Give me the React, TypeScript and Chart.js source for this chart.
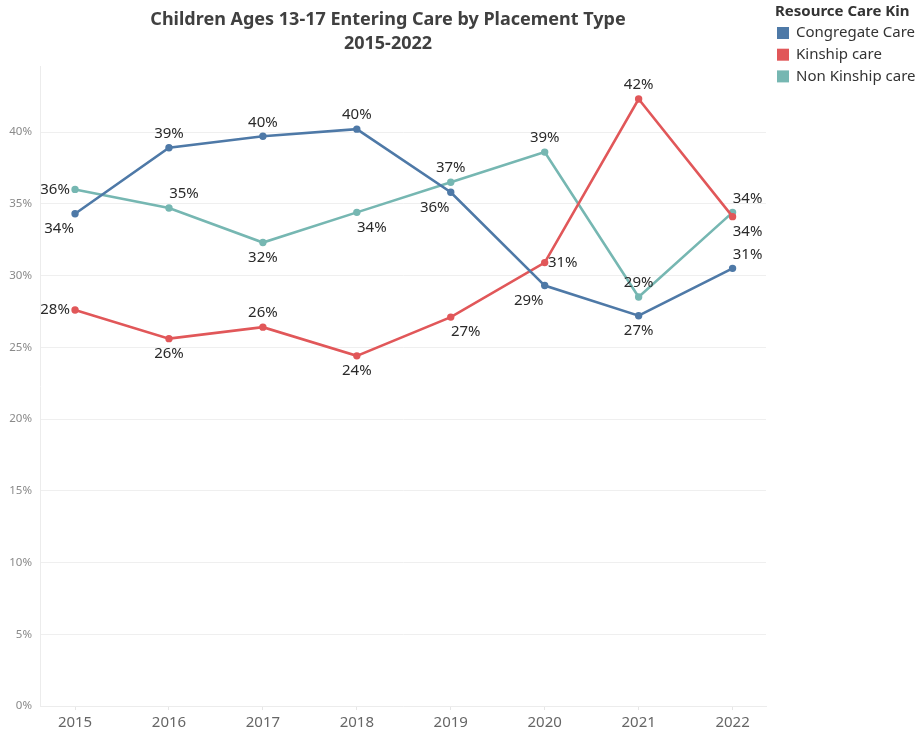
import React, { useEffect, useRef } from "react";
import { Chart, registerables } from "chart.js";

Chart.register(...registerables);

const years = [2015, 2016, 2017, 2018, 2019, 2020, 2021, 2022];
const seriesNames = ["Congregate Care", "Kinship care", "Non Kinship care"];
const congregate = [34.3, 38.9, 39.7, 40.2, 35.8, 29.3, 27.2, 30.5];
const kinship = [27.6, 25.6, 26.4, 24.4, 27.1, 30.9, 42.3, 34.1];
const nonKinship = [36.0, 34.7, 32.3, 34.4, 36.5, 38.6, 28.5, 34.4];
const yTicks = [0, 5, 10, 15, 20, 25, 30, 35, 40];
const colors = ["#4e79a7", "#e15759", "#76b7b2"];
// label placement per point: a=above, b=below, l=left, r=right, combos
const congregatePlace = ["bl", "a", "a", "a", "bl", "bl", "b", "ar"];
const kinshipPlace = ["l", "b", "a", "b", "br", "r", "a", "br"];
const nonKinshipPlace = ["l", "ar", "b", "br", "a", "a", "a", "ar"];

const titleLines = ["Children Ages 13-17 Entering Care by Placement Type", "2015-2022"];
const legendTitle = "Resource Care Kin";

export default function App() {
  const ref = useRef<HTMLCanvasElement | null>(null);
  useEffect(() => {
    const values = [congregate, kinship, nonKinship];
    const places = [congregatePlace, kinshipPlace, nonKinshipPlace];
    const labelPlugin = {
      id: "pointLabels",
      afterDatasetsDraw(chart: any) {
        const ctx = chart.ctx;
        ctx.save();
        ctx.font = "15px 'Noto Sans'";
        ctx.fillStyle = "#2a2a2a";
        ctx.textAlign = "center";
        ctx.textBaseline = "middle";
        chart.data.datasets.forEach((ds: any, di: number) => {
          const meta = chart.getDatasetMeta(di);
          meta.data.forEach((pt: any, i: number) => {
            const p = places[di][i];
            let dx = 0;
            let dy = 0;
            if (p.includes("a")) dy = -14;
            if (p.includes("b")) dy = 15;
            if (p === "l") dx = -20;
            else if (p === "r") dx = 18;
            else if (p.includes("l")) dx = -16;
            else if (p.includes("r")) dx = 15;
            const v = values[di][i];
            ctx.fillText(Math.round(v) + "%", pt.x + dx, pt.y + dy);
          });
        });
        ctx.restore();
      },
    };
    const decorPlugin = {
      id: "decor",
      afterDraw(chart: any) {
        const ctx = chart.ctx;
        ctx.save();
        ctx.fillStyle = "#404040";
        ctx.textAlign = "center";
        ctx.textBaseline = "middle";
        ctx.font = "bold 18px 'Noto Sans'";
        ctx.fillText(titleLines[0], 388, 20);
        ctx.fillText(titleLines[1], 388, 44);
        ctx.textAlign = "left";
        ctx.fillStyle = "#333333";
        ctx.font = "bold 15px 'Noto Sans'";
        ctx.fillText(legendTitle, 775, 12);
        ctx.font = "15px 'Noto Sans'";
        seriesNames.forEach((n, i) => {
          const cy = 33 + i * 21.7;
          ctx.fillStyle = colors[i];
          ctx.fillRect(777, cy - 6, 12, 12);
          ctx.fillStyle = "#333333";
          ctx.fillText(n, 796, cy);
        });
        ctx.restore();
      },
    };
    const chart = new Chart(ref.current as HTMLCanvasElement, {
      type: "line",
      data: {
        datasets: values.map((vals, di) => ({
          label: seriesNames[di],
          data: years.map((y, i) => ({ x: y, y: vals[i] })),
          borderColor: colors[di],
          backgroundColor: colors[di],
          borderWidth: 2.6,
          pointRadius: 2.4,
          pointHoverRadius: 2.4,
          tension: 0,
        })),
      },
      options: {
        responsive: false,
        animation: false,
        layout: { padding: { left: 0, right: 154, top: 66, bottom: 0 } },
        plugins: { legend: { display: false }, title: { display: false }, tooltip: { enabled: false } },
        scales: {
          x: {
            type: "linear",
            min: 2014.627,
            max: 2022.356,
            afterFit: (s: any) => {
              s.height = 32;
            },
            ticks: {
              stepSize: 1,
              includeBounds: false,
              autoSkip: false,
              maxRotation: 0,
              padding: 4,
              color: "#666666",
              font: { family: "'Noto Sans'", size: 15 },
              callback: (v: any) => (years.includes(v) ? String(v) : ""),
            },
            grid: { drawOnChartArea: false, drawTicks: true, tickLength: 4, color: "#e6e6e6" },
            border: { display: true, color: "#ececec" },
          },
          y: {
            min: 0,
            max: 44.6,
            afterFit: (s: any) => {
              s.width = 40;
            },
            afterBuildTicks: (s: any) => {
              s.ticks = yTicks.map((v) => ({ value: v }));
            },
            ticks: {
              padding: 8,
              color: "#8a8a8a",
              font: { family: "'Noto Sans'", size: 11.5 },
              callback: (v: any) => v + "%",
            },
            grid: { color: "#efefef", drawTicks: false, lineWidth: 1 },
            border: { display: true, color: "#ececec" },
          },
        },
      },
      plugins: [labelPlugin, decorPlugin],
    });
    return () => chart.destroy();
  }, []);
  return (
    <div style={{ position: "absolute", left: 0, top: 0, width: 920, height: 738, background: "#ffffff" }}>
      <canvas ref={ref} width={920} height={738} style={{ width: 920, height: 738, display: "block" }} />
    </div>
  );
}
